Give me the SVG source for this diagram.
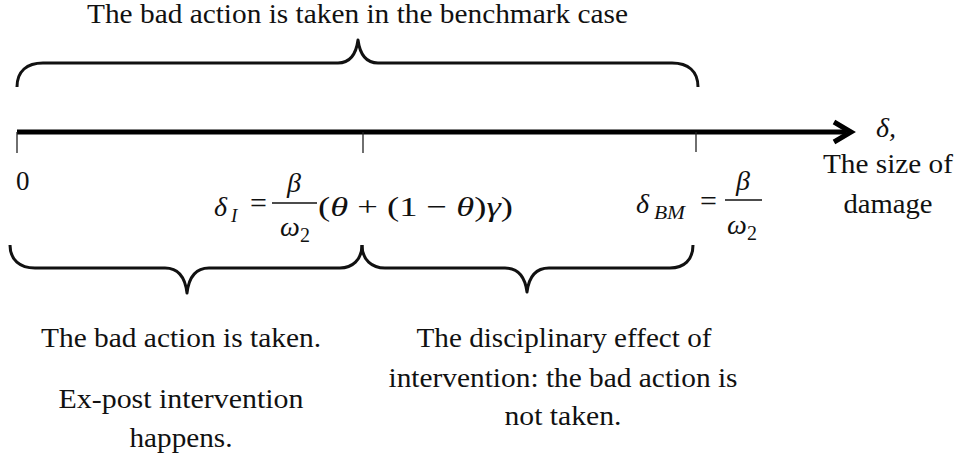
<svg xmlns="http://www.w3.org/2000/svg" width="959" height="463" viewBox="0 0 959 463">
<defs>
<style>
.brace{fill:none;stroke:#111;stroke-width:3;stroke-linejoin:round}
.tick{stroke:#222;stroke-width:1.3}
.bar{stroke:#111;stroke-width:1.6}
</style>
</defs>
<g id="connectors">
<line x1="17" y1="132" x2="846" y2="132" stroke="#000" stroke-width="5"/>
<polyline points="834,122 851,132 834,142" fill="none" stroke="#000" stroke-width="5" stroke-linejoin="miter"/>
<line class="tick" x1="17" y1="132" x2="17" y2="153"/>
<line class="tick" x1="363" y1="132" x2="363" y2="153"/>
<line class="tick" x1="696" y1="132" x2="696" y2="152"/>
</g>
<g id="top-brace">
<path class="brace" d="M17,87 C17,71 27,63 43,63 L338,63 C350,63 356,55 358,40 C360,55 366,63 378,63 L672,63 C688,63 698,71 698,87"/>
<text x="87" y="23" font-family="Liberation Serif" font-size="27" fill="#111" textLength="541" lengthAdjust="spacingAndGlyphs">The bad action is taken in the benchmark case</text>
</g>
<g id="zero">
<text x="16" y="190" font-family="Liberation Serif" font-size="27" fill="#111">0</text>
</g>
<g id="delta-I" font-family="Liberation Serif" font-size="28" fill="#111">
<text x="214" y="216" font-style="italic">δ</text>
<text x="231" y="222" font-size="19" font-style="italic">I</text>
<text x="250" y="213" font-size="30">=</text>
<line class="bar" x1="272" y1="203" x2="317" y2="203"/>
<text x="294" y="192" text-anchor="middle" font-style="italic">β</text>
<text x="280" y="236" font-style="italic">ω</text>
<text x="300" y="242" font-size="20">2</text>
<text x="318" y="216" textLength="195" lengthAdjust="spacingAndGlyphs">(<tspan font-style="italic">θ</tspan> + (1 − <tspan font-style="italic">θ</tspan>)<tspan font-style="italic">γ</tspan>)</text>
</g>
<g id="delta-BM" font-family="Liberation Serif" font-size="28" fill="#111">
<text x="636" y="213" font-style="italic">δ</text>
<text x="654" y="219" font-size="19" font-style="italic" textLength="31" lengthAdjust="spacingAndGlyphs">BM</text>
<text x="700" y="211" font-size="30">=</text>
<line class="bar" x1="725" y1="200" x2="762" y2="200"/>
<text x="743" y="190" text-anchor="middle" font-style="italic">β</text>
<text x="727" y="234" font-style="italic">ω</text>
<text x="747" y="240" font-size="20">2</text>
</g>
<g id="axis-label" font-family="Liberation Serif" font-size="27" fill="#111">
<text x="876" y="137" font-size="28" font-style="italic">δ,</text>
<text x="888" y="173" text-anchor="middle" textLength="130" lengthAdjust="spacingAndGlyphs">The size of</text>
<text x="888" y="213" text-anchor="middle" textLength="89" lengthAdjust="spacingAndGlyphs">damage</text>
</g>
<g id="left-brace" font-family="Liberation Serif" font-size="27" fill="#111">
<path class="brace" d="M10,245 C10,260 20,268 35,268 L165,268 C178,268 185,276 187,293 C189,276 196,268 209,268 L340,268 C352,268 362,260 362,245"/>
<text x="181" y="347" text-anchor="middle" textLength="280" lengthAdjust="spacingAndGlyphs">The bad action is taken.</text>
<text x="181" y="408" text-anchor="middle" textLength="245" lengthAdjust="spacingAndGlyphs">Ex-post intervention</text>
<text x="181" y="447" text-anchor="middle" textLength="103" lengthAdjust="spacingAndGlyphs">happens.</text>
</g>
<g id="right-brace" font-family="Liberation Serif" font-size="27" fill="#111">
<path class="brace" d="M362,245 C362,260 372,268 385,268 L505,268 C518,268 525,276 527,292 C529,276 536,268 549,268 L670,268 C684,268 693,260 693,245"/>
<text x="564" y="347" text-anchor="middle" textLength="295" lengthAdjust="spacingAndGlyphs">The disciplinary effect of</text>
<text x="563" y="387" text-anchor="middle" textLength="349" lengthAdjust="spacingAndGlyphs">intervention: the bad action is</text>
<text x="563" y="425" text-anchor="middle" textLength="117" lengthAdjust="spacingAndGlyphs">not taken.</text>
</g>
</svg>
